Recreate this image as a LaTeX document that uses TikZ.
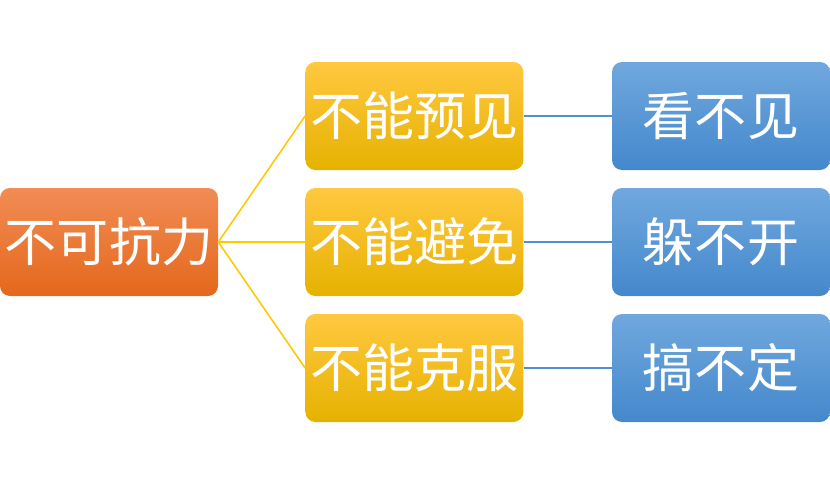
\documentclass[tikz,border=0pt]{standalone}
\usepackage{fontspec}
\setmainfont{Noto Sans CJK SC}
\definecolor{carrot}{RGB}{241, 140, 84}
\definecolor{pumpkin}{RGB}{228, 104, 28}
\definecolor{sunflower}{RGB}{255, 200, 64}
\definecolor{amber}{RGB}{255, 200, 0}
\definecolor{mustard}{RGB}{230, 178, 0}
\definecolor{skyblue}{RGB}{112, 168, 222}
\definecolor{ocean}{RGB}{68, 136, 204}
\definecolor{steelblue}{RGB}{80, 144, 208}

\begin{document}
\begin{tikzpicture}[
    box/.style={rounded corners=0.25cm, minimum width=5.45cm, minimum height=2.7cm, inner sep=0pt, text=white, font=\fontsize{37}{37}\selectfont},
    rootbox/.style={box, top color=carrot, bottom color=pumpkin},
    midbox/.style={box, top color=sunflower, middle color=amber, bottom color=mustard},
    leafbox/.style={box, top color=skyblue, bottom color=ocean},
    yline/.style={color=amber, line width=1.1pt},
    bline/.style={color=steelblue, line width=1.1pt}
]
            \useasboundingbox                                         ( 0.00, 0.00) rectangle (20.75,-12.15);
            \node[rootbox] (root)                                      at ( 2.725,-6.05) {不可抗力};
            \node[midbox]  (mid1)                                      at (10.36, -2.90) {不能预见};
            \node[midbox]  (mid2)                                      at (10.36, -6.05) {不能避免};
            \node[midbox]  (mid3)                                      at (10.36, -9.20) {不能克服};
            \node[leafbox] (leaf1)                                     at (18.025,-2.90) {看不见};
            \node[leafbox] (leaf2)                                     at (18.025,-6.05) {躲不开};
            \node[leafbox] (leaf3)                                     at (18.025,-9.20) {搞不定};
            \foreach \i in {1,2,3} {
                \draw[yline] (root.east) -- (mid\i.west);
                \draw[bline] (mid\i.east) -- (leaf\i.west);
            }
        \end{tikzpicture}
\end{document}
